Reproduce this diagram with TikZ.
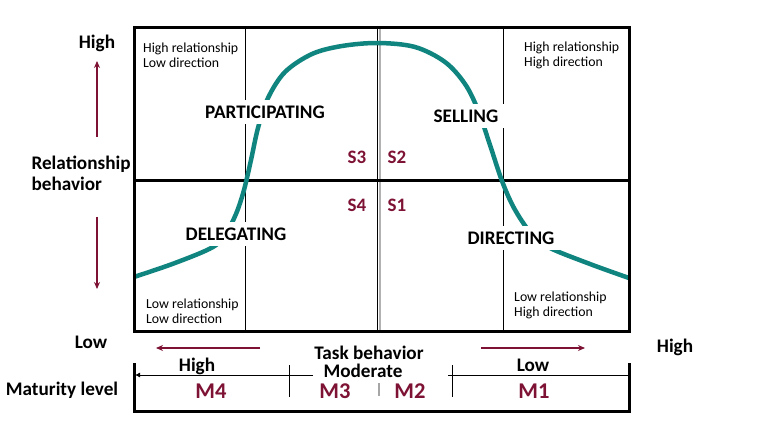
\documentclass[tikz,border=0pt]{standalone}
\usepackage{fontspec}
\setmainfont{Carlito}
\usetikzlibrary{arrows.meta}
\definecolor{tealc}{RGB}{16,133,128}
\definecolor{maroonc}{RGB}{125,18,52}
\tikzset{
  big/.style={font=\fontsize{19.2}{21}\selectfont\bfseries},
  lbl/.style={big, fill=white, inner xsep=6pt, inner ysep=6pt},
  small/.style={font=\fontsize{13.8}{15}\selectfont, align=left, inner sep=0pt},
  slab/.style={font=\fontsize{19}{20}\selectfont\bfseries, text=maroonc},
  mlab/.style={font=\fontsize{22.5}{23}\selectfont\bfseries, text=maroonc},
  marr/.style={maroonc, line width=1.3pt, -{Stealth[length=7pt,width=6pt]}},
  thick3/.style={line width=3pt},
  thin1/.style={line width=0.8pt}
}
\begin{document}
\begin{tikzpicture}[x=1pt,y=-1pt]
\useasboundingbox[fill=white] (0,0) rectangle (784,446);
% quadrant grid
\draw[thin1] (245,28) -- (245,331);
\draw[thin1] (503,28) -- (503,331);
\draw[line width=2.2pt, gray!60] (379.6,28) -- (379.6,331);
\draw[thin1] (377.8,28) -- (377.8,331);
\draw[thick3] (134,181) -- (629,181);
% curve
\draw[tealc, line width=4.5pt] plot[smooth, tension=0.55] coordinates {
 (134,277) (175,263) (213,247) (226,233) (236,214) (244,190) (251,160) (258,128)
 (268,98) (285,72) (312,54) (342,46) (378,43) (415,47) (445,62) (465,84)
 (478,110) (490,145) (502,181) (514,208) (530,232) (548,247) (590,264) (629,278)};
\draw[thick3] (134,28) rectangle (629,331);
% quadrant labels
\node[lbl] (part) at (265,112) {PARTICIPATING};
\node[lbl] (sell) at (466,116) {SELLING};
\node[lbl] (dele) at (236,234) {DELEGATING};
\node[lbl] (dire) at (511,238) {DIRECTING};
\node[slab] (s3) at (357,157.5) {S3};
\node[slab] (s2) at (397,157.5) {S2};
\node[slab] (s4) at (357,205) {S4};
\node[slab] (s1) at (397,205) {S1};
% corner texts
\node[small, anchor=west] (tl) at (143,55) {High relationship\\Low direction};
\node[small, anchor=west] (tr) at (524,55) {High relationship\\High direction};
\node[small, anchor=west] (bl) at (146,311) {Low relationship\\Low direction};
\node[small, anchor=west] (br) at (514,305) {Low relationship\\High direction};
% left axis
\node[big] (hiR) at (97,43) {High};
\node[big, align=left, anchor=west] (rel) at (28,173) {Relationship\\behavior};
\node[big] (lowR) at (91,342) {Low};
\coordinate (ua1) at (97,137);
\coordinate (ua2) at (97,61);
\coordinate (da1) at (97,217);
\coordinate (da2) at (97,289);
\draw[marr] (ua1) -- (ua2);
\draw[marr] (da1) -- (da2);
% task axis
\node[big] (hiT) at (675,347) {High};
\node[big, inner sep=0pt] (task) at (369,352.5) {Task behavior};
\node[big, inner sep=0pt] (mod) at (363,370.5) {Moderate};
\coordinate (la1) at (260,348);
\coordinate (la2) at (156,348);
\coordinate (ra1) at (481,348);
\coordinate (ra2) at (585,348);
\draw[marr] (la1) -- (la2);
\draw[marr] (ra1) -- (ra2);
% maturity bar
\node[big] (mat) at (62,390) {Maturity level};
\draw[thick3] (134,363) -- (134,411) -- (629,411) -- (629,363);
\coordinate (bl1) at (313,375);
\coordinate (bl2) at (135,375);
\coordinate (br1) at (448,375);
\coordinate (br2) at (629,375);
\draw[thin1, -{Latex[length=5pt,width=5pt]}] (bl1) -- (bl2);
\draw[thin1] (br1) -- (br2);
\draw[thin1] (289,365) -- (289,397);
\draw[thin1] (452,365) -- (452,397);
\draw[line width=2.5pt, gray!70] (379,383) -- (379,396);
\node[big] (bh) at (197,366) {High};
\node[big] (blow) at (533,365) {Low};
\node[mlab] (m4) at (211,391) {M4};
\node[mlab] (m3) at (335,391) {M3};
\node[mlab] (m2) at (410,391) {M2};
\node[mlab] (m1) at (534,391) {M1};
\end{tikzpicture}
\end{document}
